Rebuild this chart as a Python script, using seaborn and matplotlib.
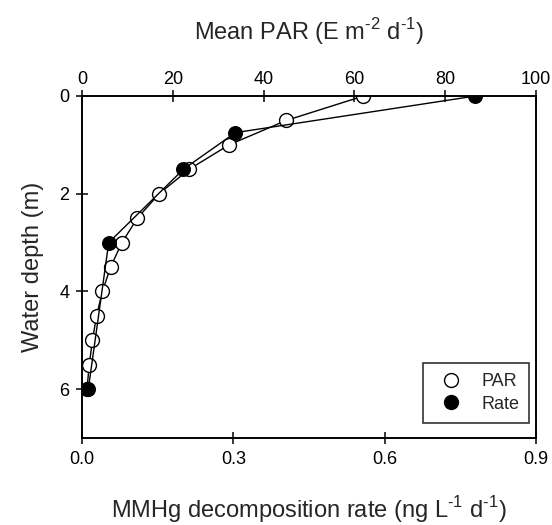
import matplotlib
matplotlib.use("Agg")
import matplotlib.pyplot as plt
import seaborn as sns
from matplotlib.lines import Line2D

# Depth profiles
par_depth = [0, 0.5, 1.0, 1.5, 2.0, 2.5, 3.0, 3.5, 4.0, 4.5, 5.0, 5.5, 6.0]
par_value = [62, 45, 32.4, 23.6, 17, 12.2, 8.8, 6.3, 4.5, 3.2, 2.3, 1.6, 1.1]

rate_depth = [0, 0.75, 1.5, 3.0, 6.0]
rate_value = [0.78, 0.304, 0.201, 0.053, 0.0125]

par_ticks = [0, 20, 40, 60, 80, 100]
rate_ticks = [0.0, 0.3, 0.6, 0.9]
depth_ticks = [0, 2, 4, 6]

sns.set_theme(style="ticks")
plt.rcParams["font.family"] = ["Liberation Sans", "DejaVu Sans"]
plt.rcParams["mathtext.fontset"] = "custom"
plt.rcParams["mathtext.rm"] = "Liberation Sans"

fig = plt.figure(figsize=(5.52, 5.25), dpi=100)
ax = fig.add_axes([82 / 552, 1 - 438 / 525, 454 / 552, 342 / 525])

# PAR on the main axes (top x axis)
sns.lineplot(x=par_value, y=par_depth, sort=False, estimator=None, ax=ax,
             color="black", linewidth=1.0, marker="o", markersize=10,
             markerfacecolor="white", markeredgecolor="black", markeredgewidth=1.0)

# Rate on twin axes (bottom x axis)
ax2 = ax.twiny()
sns.lineplot(x=rate_value, y=rate_depth, sort=False, estimator=None, ax=ax2,
             color="black", linewidth=1.0, marker="o", markersize=10,
             markerfacecolor="black", markeredgecolor="black")

ax.set_xlim(0, 100)
ax.set_ylim(7, 0)
ax.set_xticks(par_ticks)
ax.set_yticks(depth_ticks)
ax.xaxis.set_ticks_position("top")
ax.xaxis.set_label_position("top")
ax.set_xlabel("Mean PAR (E m$^{\u20102}$ d$^{\u20101}$)", fontsize=17, labelpad=22)
ax.set_ylabel("Water depth (m)", fontsize=17, labelpad=11)

ax2.set_xlim(0, 0.9)
ax2.set_ylim(7, 0)
ax2.set_xticks(rate_ticks)
ax2.set_xticklabels([f"{t:.1f}" for t in rate_ticks])
ax2.xaxis.set_ticks_position("bottom")
ax2.xaxis.set_label_position("bottom")
ax2.set_xlabel("MMHg decomposition rate (ng L$^{\u20101}$ d$^{\u20101}$)", fontsize=17, labelpad=19)

for a in (ax, ax2):
    a.tick_params(direction="inout", length=8, width=1.1, labelsize=13, colors="black", pad=5)
    for s in a.spines.values():
        s.set_linewidth(1.2)
        s.set_color("black")
ax.tick_params(axis="x", pad=2)

handles = [
    Line2D([], [], linestyle="none", marker="o", markersize=10,
           markerfacecolor="white", markeredgecolor="black", label="PAR"),
    Line2D([], [], linestyle="none", marker="o", markersize=10,
           markerfacecolor="black", markeredgecolor="black", label="Rate"),
]
leg = ax2.legend(handles=handles, loc="lower right", bbox_to_anchor=(0.985, 0.045),
                 frameon=True, fancybox=False, edgecolor="black", fontsize=13,
                 handletextpad=0.7, borderpad=0.55, labelspacing=0.3, borderaxespad=0)
leg.get_frame().set_linewidth(1.2)

fig.savefig("out.png", dpi=100)
